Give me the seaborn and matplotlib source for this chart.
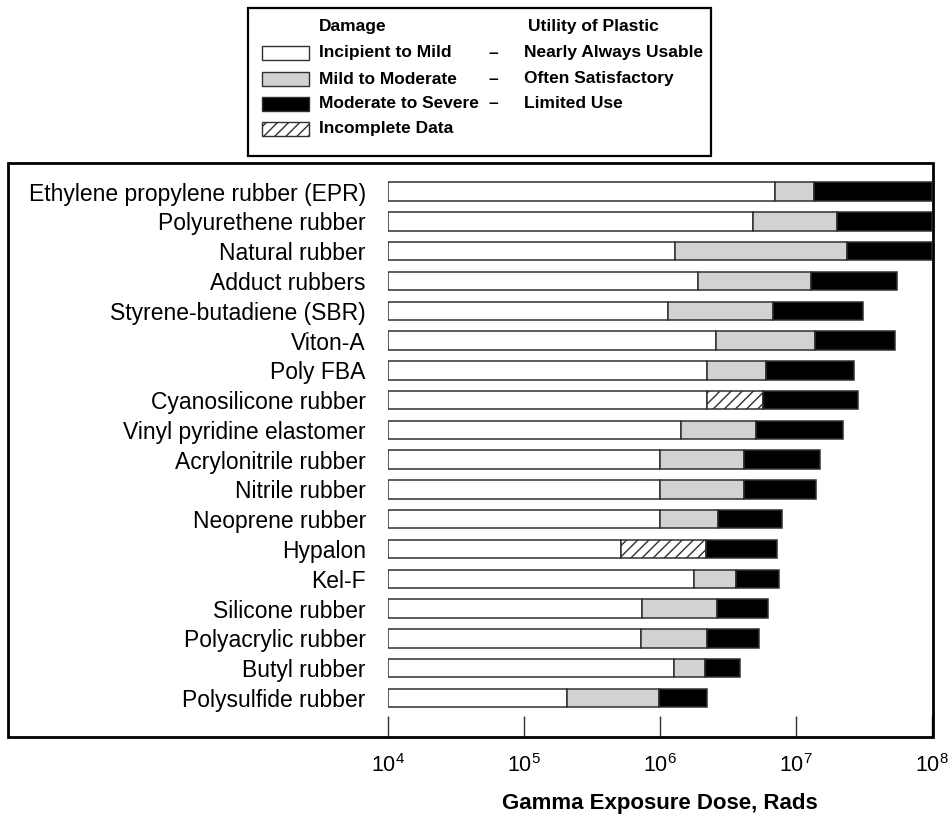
import matplotlib
matplotlib.use("Agg")
import matplotlib.pyplot as plt
from matplotlib.patches import Rectangle
from matplotlib.ticker import NullLocator
import pandas as pd
import seaborn as sns

# Radiation damage thresholds for elastomers (gamma dose, rads)
materials = [
    "Ethylene propylene rubber (EPR)",
    "Polyurethene rubber",
    "Natural rubber",
    "Adduct rubbers",
    "Styrene-butadiene (SBR)",
    "Viton-A",
    "Poly FBA",
    "Cyanosilicone rubber",
    "Vinyl pyridine elastomer",
    "Acrylonitrile rubber",
    "Nitrile rubber",
    "Neoprene rubber",
    "Hypalon",
    "Kel-F",
    "Silicone rubber",
    "Polyacrylic rubber",
    "Butyl rubber",
    "Polysulfide rubber",
]
dose_start = 1e4
mild_end = [7.0e6, 4.8e6, 1.3e6, 1.9e6, 1.15e6, 2.6e6, 2.2e6, 2.2e6, 1.43e6,
            1.0e6, 1.0e6, 1.0e6, 5.2e5, 1.78e6, 7.4e5, 7.3e5, 1.27e6, 2.07e5]
moderate_end = [1.36e7, 2.0e7, 2.37e7, 1.29e7, 6.8e6, 1.38e7, 6.0e6, 5.7e6, 5.1e6,
                4.15e6, 4.15e6, 2.67e6, 2.18e6, 3.62e6, 2.62e6, 2.22e6, 2.14e6, 9.8e5]
severe_end = [1e8, 1e8, 1e8, 5.5e7, 3.1e7, 5.35e7, 2.67e7, 2.86e7, 2.22e7,
              1.5e7, 1.4e7, 7.9e6, 7.24e6, 7.5e6, 6.22e6, 5.35e6, 3.87e6, 2.22e6]
incomplete_data = ["Cyanosilicone rubber", "Hypalon"]

x_ticks = [1e4, 1e5, 1e6, 1e7, 1e8]
x_tick_labels = [r"$\mathregular{10^{4}}$", r"$\mathregular{10^{5}}$",
                 r"$\mathregular{10^{6}}$", r"$\mathregular{10^{7}}$",
                 r"$\mathregular{10^{8}}$"]

legend_damage = ["Incipient to Mild", "Mild to Moderate", "Moderate to Severe", "Incomplete Data"]
legend_utility = ["Nearly Always Usable", "Often Satisfactory", "Limited Use", None]

WHITE, GRAY, BLACK = "#ffffff", "#d1d2d4", "#000000"
EDGE = "#303030"

sns.set_theme(style="white")
plt.rcParams["font.family"] = ["Liberation Sans", "DejaVu Sans"]
plt.rcParams["mathtext.fontset"] = "custom"
plt.rcParams["mathtext.rm"] = "Liberation Sans"
plt.rcParams["hatch.linewidth"] = 1.0
plt.rcParams["hatch.color"] = "black"

W, H, DPI = 953, 818, 100
fig = plt.figure(figsize=(W / DPI, H / DPI), dpi=DPI, facecolor="white")


def fx(px):
    return px / W


def fy(py):
    return 1 - py / H


ax = fig.add_axes([fx(388), fy(737), fx(932) - fx(388), fy(163) - fy(737)])
ax.set_facecolor("none")

df = pd.DataFrame({
    "material": materials,
    "mild": mild_end,
    "moderate": moderate_end,
    "severe": severe_end,
})
df["incomplete"] = df["material"].isin(incomplete_data)
df["w_mild"] = df["mild"] - dose_start
df["w_mod"] = df["moderate"] - df["mild"]
df["w_sev"] = df["severe"] - df["moderate"]

bar_kw = dict(orient="h", order=materials, width=0.62, errorbar=None,
              saturation=1, edgecolor=EDGE, linewidth=1.1, log_scale=True, ax=ax)

# incipient-to-mild band
sns.barplot(data=df, x="w_mild", y="material", color=WHITE,
            left=[dose_start] * len(df), **bar_kw)
# mild-to-moderate band (gray) or incomplete data (hatched)
gray = df[~df["incomplete"]]
sns.barplot(data=gray, x="w_mod", y="material", color=GRAY,
            left=gray["mild"].to_numpy(), **bar_kw)
hatched = df[df["incomplete"]]
sns.barplot(data=hatched, x="w_mod", y="material", color=WHITE, hatch="///",
            left=hatched["mild"].to_numpy(), **bar_kw)
# moderate-to-severe band
sns.barplot(data=df, x="w_sev", y="material", color=BLACK,
            left=df["moderate"].to_numpy(), **bar_kw)

ax.set_xscale("log")
ax.set_xlim(1e4, 1e8)
ax.set_ylim(17 + 1.31, -0.96)
ax.set_xticks(x_ticks)
ax.set_xticklabels(x_tick_labels)
ax.xaxis.set_minor_locator(NullLocator())
ax.tick_params(axis="x", direction="in", length=15, width=1.0, color="#333333",
               pad=12, labelsize=15.5, labelcolor="black", bottom=True)
ax.tick_params(axis="y", length=0, pad=16, labelsize=16.5, labelcolor="black")
ax.set_ylabel("")
ax.set_xlabel("Gamma Exposure Dose, Rads", fontsize=16, fontweight="bold",
              labelpad=12, color="black")
for s in ax.spines.values():
    s.set_visible(False)
ax.grid(False)

# outer frame around the chart
fig.add_artist(Rectangle((fx(8), fy(737)), fx(933) - fx(8), fy(163) - fy(737),
                         transform=fig.transFigure, fill=False,
                         edgecolor="black", linewidth=2.0))

# legend box
fig.add_artist(Rectangle((fx(248), fy(156)), fx(711) - fx(248), fy(8) - fy(156),
                         transform=fig.transFigure, fill=False,
                         edgecolor="black", linewidth=1.6))
legend_font = dict(fontsize=12.5, fontweight="bold", va="center", color="black")
fig.text(fx(319), fy(26), "Damage", ha="left", **legend_font)
fig.text(fx(528), fy(26), "Utility of Plastic", ha="left", **legend_font)
swatch_styles = [
    dict(facecolor=WHITE),
    dict(facecolor=GRAY),
    dict(facecolor=BLACK),
    dict(facecolor=WHITE, hatch="///"),
]
row_y = [53, 79, 104, 129]
for label, util, style, yc in zip(legend_damage, legend_utility, swatch_styles, row_y):
    fig.add_artist(Rectangle((fx(262), fy(yc + 7)), fx(309) - fx(262), fy(yc - 7) - fy(yc + 7),
                             transform=fig.transFigure, edgecolor=EDGE,
                             linewidth=1.0, **style))
    fig.text(fx(319), fy(yc), label, ha="left", **legend_font)
    if util is not None:
        fig.text(fx(493), fy(yc), "\u2013", ha="center", **legend_font)
        fig.text(fx(524), fy(yc), util, ha="left", **legend_font)

fig.savefig("out.png", dpi=DPI, facecolor="white")
